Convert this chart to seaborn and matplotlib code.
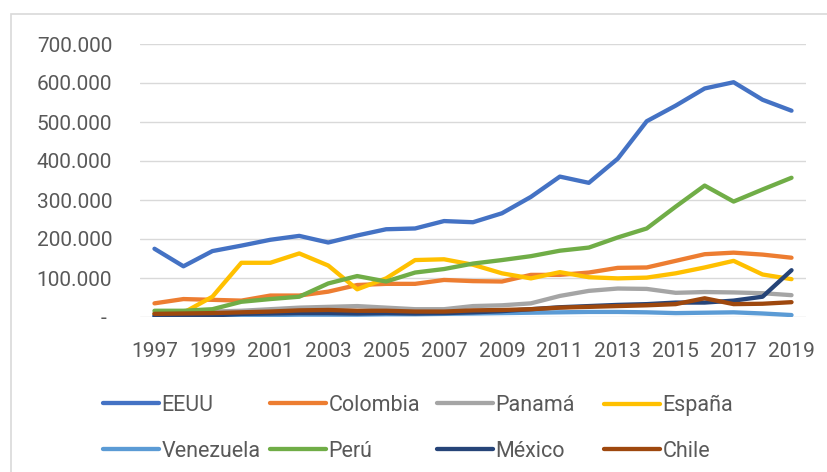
import matplotlib
matplotlib.use("Agg")
import matplotlib.pyplot as plt
import matplotlib.patches as mpatches
import pandas as pd
import seaborn as sns

years = list(range(1997, 2020))

eeuu = [175000, 130000, 169000, 183000, 198000, 208000, 191000, 209000, 225000, 227000, 246000, 243000,
        266000, 308000, 360000, 344000, 406000, 502000, 542000, 586000, 602000, 557000, 529000]
colombia = [35000, 46000, 44000, 42000, 55000, 55000, 65000, 82000, 85000, 85000, 95000, 92000,
            91000, 108000, 108000, 114000, 126000, 127000, 144000, 161000, 165000, 160000, 152000]
panama = [10000, 12000, 14000, 16000, 20000, 24000, 26000, 28000, 24000, 20000, 20000, 28000,
          30000, 35000, 54000, 67000, 73000, 72000, 62000, 64000, 63000, 61000, 56000]
espana = [8000, 11000, 52000, 139000, 139000, 163000, 132000, 71000, 99000, 146000, 148000, 134000,
          112000, 99000, 115000, 102000, 99000, 101000, 112000, 127000, 144000, 109000, 97000]
venezuela = [3000, 3000, 4000, 5000, 5000, 6000, 6000, 6000, 7000, 7000, 8000, 9000,
             10000, 11000, 12000, 13000, 13000, 12000, 10000, 11000, 12000, 9000, 5000]
peru = [16000, 16000, 20000, 39000, 46000, 52000, 86000, 105000, 91000, 114000, 123000, 137000,
        146000, 156000, 170000, 178000, 204000, 227000, 283000, 337000, 296000, 327000, 357000]
mexico = [2000, 2000, 4000, 8000, 9000, 10000, 10000, 9000, 10000, 9000, 10000, 12000,
          15000, 20000, 25000, 28000, 31000, 33000, 37000, 37000, 42000, 52000, 120000]
chile = [8000, 9000, 10000, 12000, 14000, 17000, 18000, 16000, 16000, 14000, 14000, 17000,
         18000, 20000, 24000, 26000, 28000, 30000, 33000, 48000, 33000, 34000, 38000]

paises = ["EEUU", "Colombia", "Panamá", "España", "Venezuela", "Perú", "México", "Chile"]
colores = ["#4472C4", "#ED7D31", "#A5A5A5", "#FFC000", "#5B9BD5", "#70AD47", "#264478", "#9E480E"]
series = [eeuu, colombia, panama, espana, venezuela, peru, mexico, chile]

df = pd.concat([pd.DataFrame({"anio": years, "valor": s, "pais": p}) for p, s in zip(paises, series)])

sns.set_style("white")
plt.rcParams["font.family"] = ["Roboto", "DejaVu Sans"]
texto = "#595959"

fig = plt.figure(figsize=(8.27, 4.72), dpi=100)
ax = fig.add_axes([140 / 827, 1 - 317 / 472, 666 / 827, 273 / 472])

sns.lineplot(data=df, x="anio", y="valor", hue="pais", hue_order=paises, palette=colores,
             linewidth=3.1, ax=ax, legend=False, solid_capstyle="round", solid_joinstyle="round")

ax.set_xlim(1996.5, 2019.5)
ax.set_ylim(0, 700000)
yt = list(range(0, 700001, 100000))
ax.set_yticks(yt)
ax.set_yticklabels(["- "] + ["{:,}".format(v).replace(",", ".") for v in yt[1:]])
ax.set_xticks(years[::2])
ax.set_xticklabels([str(y) for y in years[::2]])
ax.tick_params(axis="both", length=0, labelsize=15, colors=texto)
ax.tick_params(axis="y", pad=20)
ax.tick_params(axis="x", pad=18)
ax.set_xlabel("")
ax.set_ylabel("")
ax.grid(axis="y", color="#D9D9D9", linewidth=1)
ax.set_axisbelow(True)
for s in ax.spines.values():
    s.set_visible(False)

# leyenda en 4 columnas de ancho fijo, como en Excel
cols_x = [103, 270, 437, 604]
for i, x0 in enumerate(cols_x):
    hs = [plt.Line2D([], [], color=colores[i], linewidth=3.1, solid_capstyle="round"),
          plt.Line2D([], [], color=colores[i + 4], linewidth=3.1, solid_capstyle="round")]
    leg = fig.legend(hs, [paises[i], paises[i + 4]], loc="upper left",
                     bbox_to_anchor=(x0 / 827, 1 - 395 / 472), frameon=False,
                     fontsize=15.5, handlelength=2.6, handletextpad=0.12,
                     labelspacing=1.15, borderpad=0, borderaxespad=0)
    for t in leg.get_texts():
        t.set_color(texto)

# marco del gráfico
fig.patches.append(mpatches.Rectangle((11 / 827, -0.1), 1.2, 1 - 14 / 472 + 0.1,
                                      transform=fig.transFigure, fill=False,
                                      edgecolor="#D9D9D9", linewidth=1.2))

fig.savefig("out.png", dpi=100)
